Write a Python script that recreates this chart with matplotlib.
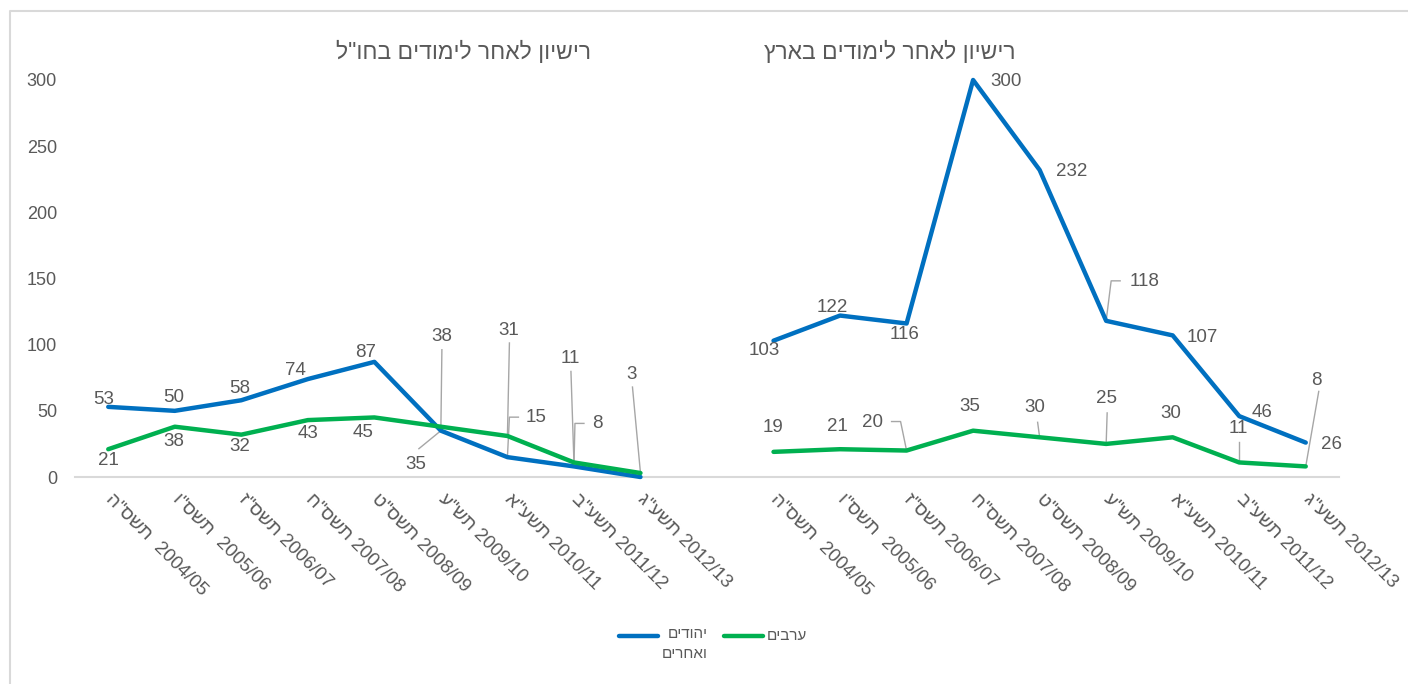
import matplotlib.pyplot as plt
from matplotlib.lines import Line2D
from matplotlib.transforms import IdentityTransform

plt.rcParams['font.family'] = ['Liberation Sans', 'DejaVu Sans']

# data
years = ["2004/05", "2005/06", "2006/07", "2007/08", "2008/09",
         "2009/10", "2010/11", "2011/12", "2012/13"]
heb_years = ['תשס"ה', 'תשס"ו', 'תשס"ז', 'תשס"ח', 'תשס"ט',
             'תש"ע', 'תשע"א', 'תשע"ב', 'תשע"ג']

abroad_jews = [53, 50, 58, 74, 87, 35, 15, 8, 0]
abroad_arabs = [21, 38, 32, 43, 45, 38, 31, 11, 3]
local_jews = [103, 122, 116, 300, 232, 118, 107, 46, 26]
local_arabs = [19, 21, 20, 35, 30, 25, 30, 11, 8]

title_abroad = 'רישיון לאחר לימודים בחו"ל'
title_local = 'רישיון לאחר לימודים בארץ'
name_jews = 'יהודים\nואחרים'
name_arabs = 'ערבים'

BLUE = "#0070C0"
GREEN = "#00B050"
TXT = "#595959"
GRID = "#D9D9D9"
LEAD = "#A6A6A6"

W, H = 1408, 684


def vis(s):
    # matplotlib has no bidi: put hebrew in visual order
    return "\n".join(line[::-1] for line in s.split("\n"))


def fx(x):
    return x / W


def fy(y):
    return 1 - y / H


# label offsets in pixels (dx, dy up) and leader vertices, per point
off_abroad_jews = [(-5, 7), (-1, 13), (-2, 12), (-12, 9), (-9, 9),
                   (-25, -34), (29, 40), (23, 43), None]
lead_abroad_jews = [None, None, None, None, None,
                    [(-22, -18), (0, 0)],
                    [(11, 40), (2, 40), (0, 0)],
                    [(10, 43), (1, 43), (0, 0)], None]
off_abroad_arabs = [(0, -11), (-1, -15), (-2, -12), (0, -13), (-11, -15),
                    (1, 90), (1, 105), (-4, 104), (-9, 99)]
lead_abroad_arabs = [None, None, None, None, None,
                     [(1, 77), (0, 0)], [(2, 93), (0, 0)],
                     [(-3, 91), (0, 0)], [(-8, 86), (0, 0)]]
off_local_jews = [(-9, -10), (-8, 8), (-2, -11), (33, -2), (32, -2),
                  (38, 39), (30, -2), (23, 4), (26, -2)]
lead_local_jews = [None, None, None, None, None,
                   [(14, 40), (5, 40), (0, 0)], None, None, None]
off_local_arabs = [(-1, 24), (-3, 23), (-34, 28), (-3, 24), (-5, 30),
                   (0, 45), (-2, 24), (-1, 34), (11, 86)]
lead_local_arabs = [None, None,
                    [(-15, 29), (-6, 29), (0, 0)], None,
                    [(-2, 15), (0, 0)], [(1, 31), (0, 0)], None,
                    [(0, 20), (0, 0)], [(13, 75), (0, 0)]]

x_abroad = list(range(9))
x_local = list(range(10, 19))

fig = plt.figure(figsize=(W / 100, H / 100), dpi=100)
ax = fig.add_axes([fx(75), fy(477), (1339 - 75) / W, (477 - 80) / H])
ax.set_xlim(-0.5, 18.5)
ax.set_ylim(0, 300)

ax.plot(x_abroad, abroad_jews, color=BLUE, lw=3.2, solid_capstyle="round",
        solid_joinstyle="round", clip_on=False, zorder=3)
ax.plot(x_abroad, abroad_arabs, color=GREEN, lw=3.2, solid_capstyle="round",
        solid_joinstyle="round", clip_on=False, zorder=3)
ax.plot(x_local, local_jews, color=BLUE, lw=3.2, solid_capstyle="round",
        solid_joinstyle="round", clip_on=False, zorder=3)
ax.plot(x_local, local_arabs, color=GREEN, lw=3.2, solid_capstyle="round",
        solid_joinstyle="round", clip_on=False, zorder=3)

for side in ["top", "right", "left"]:
    ax.spines[side].set_visible(False)
ax.spines["bottom"].set_color(GRID)
ax.spines["bottom"].set_linewidth(1.5)

ax.set_yticks(range(0, 301, 50))
ax.tick_params(axis="y", length=0, pad=13, labelsize=13, labelcolor=TXT)
ax.set_xticks(x_abroad + x_local)
ticklabels = [vis(h) + ("  " if i < 2 else " ") + y
              for i, (h, y) in enumerate(zip(heb_years, years))]
ax.set_xticklabels(ticklabels * 2, rotation=-45, ha="left", va="center",
                   rotation_mode="anchor")
ax.tick_params(axis="x", length=0, pad=14, labelsize=13.5, labelcolor=TXT)


def labels(xs, vals, offs, leads):
    for x, v, o, ld in zip(xs, vals, offs, leads):
        if o is not None:
            ax.annotate(str(v), (x, v), xytext=o, textcoords="offset pixels",
                        ha="center", va="center", fontsize=13.5, color=TXT,
                        annotation_clip=False, zorder=4)
        if ld is not None:
            bx, by = ax.transData.transform((x, v))
            ax.add_line(Line2D([bx + dx for dx, dy in ld],
                               [by + dy for dx, dy in ld],
                               transform=IdentityTransform(), color=LEAD,
                               lw=1.0, clip_on=False, zorder=2))


labels(x_abroad, abroad_jews, off_abroad_jews, lead_abroad_jews)
labels(x_abroad, abroad_arabs, off_abroad_arabs, lead_abroad_arabs)
labels(x_local, local_jews, off_local_jews, lead_local_jews)
labels(x_local, local_arabs, off_local_arabs, lead_local_arabs)

# titles
fig.text(fx(463), fy(52), vis(title_abroad), ha="center", va="center",
         fontsize=16.5, color=TXT)
fig.text(fx(890), fy(52), vis(title_local), ha="center", va="center",
         fontsize=16.5, color=TXT)

# legend
fig.add_artist(Line2D([fx(619), fx(658)], [fy(636), fy(636)], color=BLUE,
                      lw=3.2, solid_capstyle="round"))
fig.text(fx(708), fy(627), vis(name_jews), ha="right", va="top",
         fontsize=11, color=TXT, multialignment="right", linespacing=1.55)
fig.add_artist(Line2D([fx(724), fx(763)], [fy(636), fy(636)], color=GREEN,
                      lw=3.2, solid_capstyle="round"))
fig.text(fx(767), fy(636), vis(name_arabs), ha="left", va="center",
         fontsize=11, color=TXT)

# outer frame
fig.add_artist(Line2D([fx(10), fx(10), fx(W + 5)], [fy(H + 5), fy(11), fy(11)],
                      color=GRID, lw=1.5))

fig.savefig("out.png", dpi=100)
